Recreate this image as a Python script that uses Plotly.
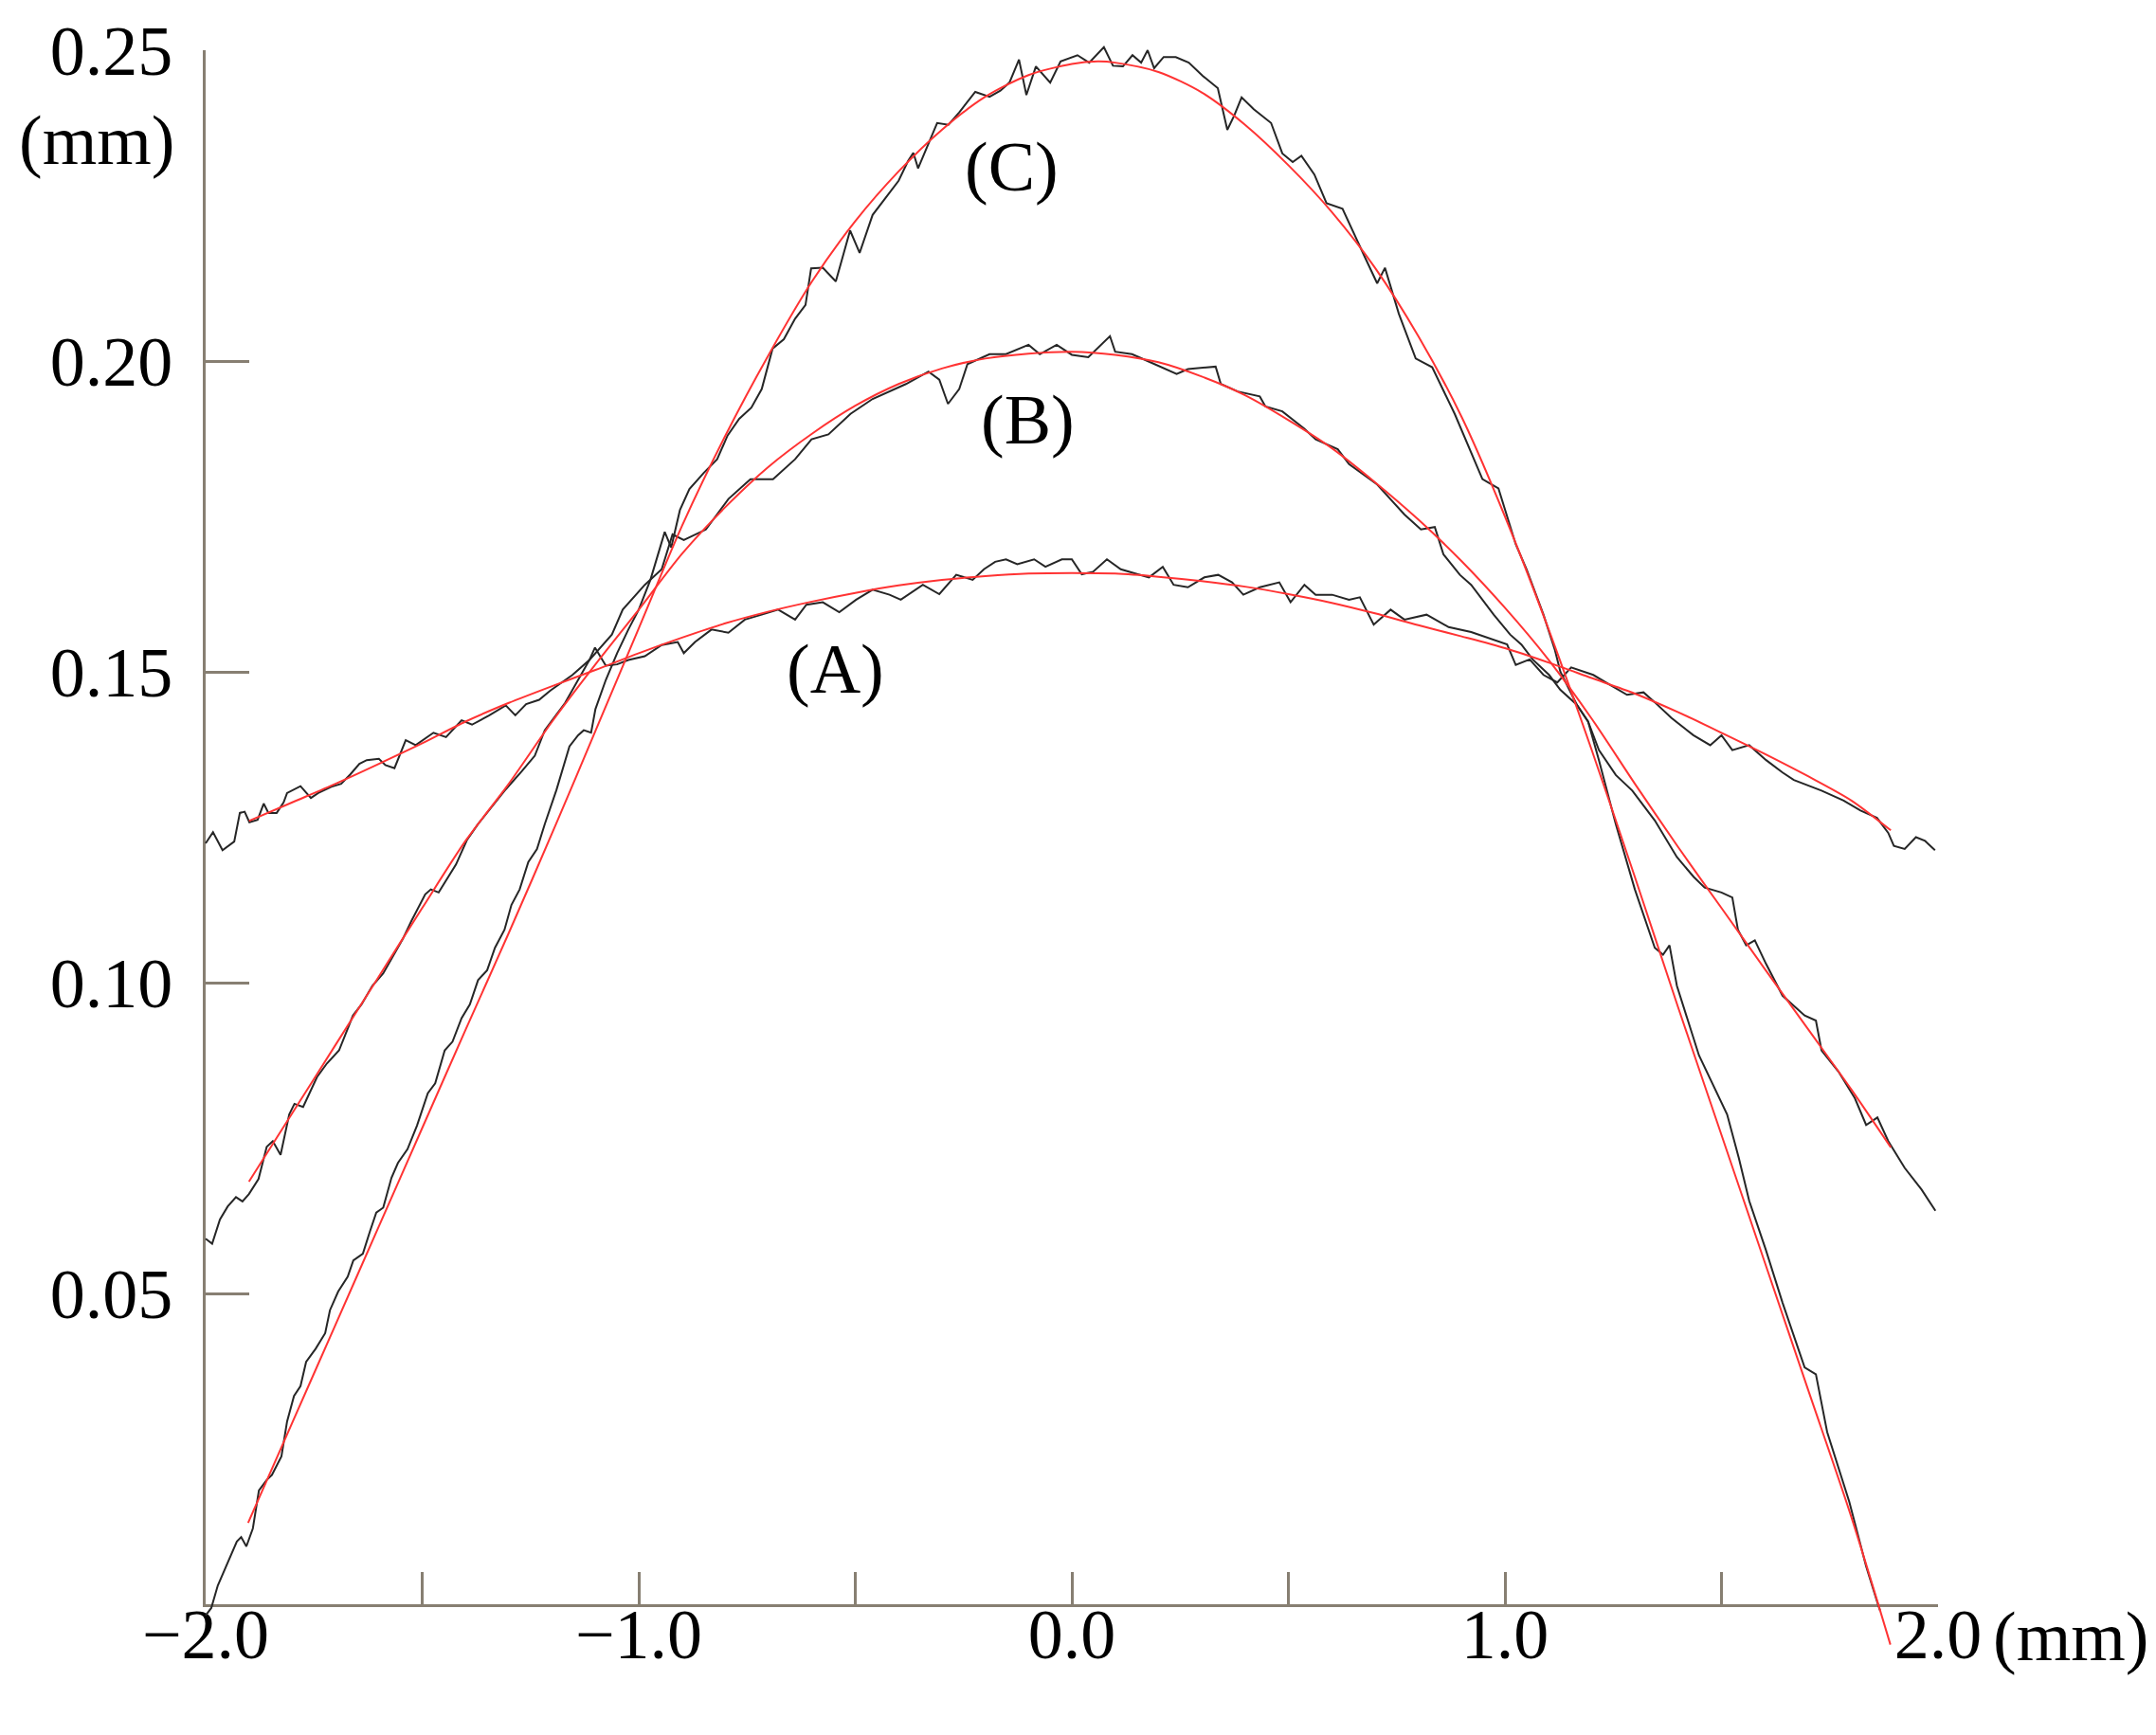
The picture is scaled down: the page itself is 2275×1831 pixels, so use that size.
import plotly.graph_objects as go

# ---------------- data ----------------
# (A) measured profile
xA_meas = [-2.000, -1.983, -1.961, -1.934, -1.921, -1.910, -1.899, -1.880, -1.866, -1.855, -1.836, -1.820,
           -1.812, -1.781, -1.757, -1.740, -1.710, -1.687, -1.666, -1.645, -1.628, -1.600, -1.585, -1.564,
           -1.538, -1.515, -1.474, -1.445, -1.409, -1.385, -1.345, -1.307, -1.285, -1.260, -1.230, -1.204,
           -1.153, -1.114, -1.101, -1.076, -1.050, -1.024, -0.986, -0.947, -0.910, -0.896, -0.870, -0.832,
           -0.793, -0.755, -0.716, -0.678, -0.639, -0.613, -0.575, -0.537, -0.498, -0.460, -0.421, -0.395,
           -0.344, -0.306, -0.267, -0.229, -0.203, -0.177, -0.152, -0.126, -0.087, -0.061, -0.023, 0.000,
           0.023, 0.049, 0.081, 0.113, 0.152, 0.178, 0.210, 0.235, 0.268, 0.306, 0.338, 0.370,
           0.396, 0.434, 0.479, 0.505, 0.537, 0.563, 0.601, 0.640, 0.665, 0.697, 0.736, 0.768,
           0.819, 0.870, 0.922, 0.974, 1.005, 1.025, 1.057, 1.089, 1.121, 1.153, 1.204, 1.243,
           1.282, 1.320, 1.346, 1.384, 1.435, 1.474, 1.500, 1.525, 1.564, 1.603, 1.641, 1.667,
           1.731, 1.782, 1.821, 1.859, 1.885, 1.898, 1.923, 1.949, 1.970, 1.993]
yA_meas = [0.1224, 0.1242, 0.1213, 0.1227, 0.1273, 0.1275, 0.1258, 0.1262, 0.1288, 0.1273, 0.1273, 0.1290,
           0.1305, 0.1316, 0.1297, 0.1305, 0.1315, 0.1320, 0.1335, 0.1352, 0.1358, 0.1360, 0.1350, 0.1345,
           0.1390, 0.1382, 0.1402, 0.1395, 0.1422, 0.1415, 0.1430, 0.1446, 0.1430, 0.1448, 0.1455, 0.1470,
           0.1495, 0.1519, 0.1539, 0.1510, 0.1512, 0.1519, 0.1525, 0.1543, 0.1548, 0.1530, 0.1548, 0.1568,
           0.1563, 0.1584, 0.1592, 0.1600, 0.1584, 0.1608, 0.1612, 0.1596, 0.1616, 0.1632, 0.1624, 0.1616,
           0.1640, 0.1625, 0.1656, 0.1648, 0.1665, 0.1677, 0.1681, 0.1673, 0.1681, 0.1669, 0.1681, 0.1681,
           0.1657, 0.1661, 0.1681, 0.1665, 0.1657, 0.1652, 0.1669, 0.1640, 0.1636, 0.1652, 0.1656, 0.1644,
           0.1624, 0.1636, 0.1644, 0.1612, 0.1640, 0.1624, 0.1624, 0.1616, 0.1620, 0.1576, 0.1600, 0.1584,
           0.1592, 0.1572, 0.1564, 0.1552, 0.1544, 0.1511, 0.1520, 0.1495, 0.1483, 0.1507, 0.1495, 0.1479,
           0.1463, 0.1467, 0.1451, 0.1426, 0.1398, 0.1382, 0.1398, 0.1374, 0.1382, 0.1358, 0.1338, 0.1326,
           0.1309, 0.1293, 0.1277, 0.1265, 0.1241, 0.1220, 0.1215, 0.1234, 0.1228, 0.1213]

# (A) fitted curve
xA_fit = [-1.900, -1.800, -1.700, -1.600, -1.500, -1.400, -1.300, -1.200, -1.100, -1.000, -0.900, -0.800,
          -0.700, -0.600, -0.500, -0.400, -0.300, -0.200, -0.100, 0.000, 0.100, 0.200, 0.300, 0.400,
          0.500, 0.600, 0.700, 0.800, 0.900, 1.000, 1.100, 1.200, 1.300, 1.400, 1.500, 1.600,
          1.700, 1.800, 1.891]
yA_fit = [0.1260, 0.1290, 0.1320, 0.1352, 0.1385, 0.1420, 0.1450, 0.1477, 0.1503, 0.1530, 0.1555, 0.1578,
          0.1597, 0.1613, 0.1627, 0.1639, 0.1648, 0.1654, 0.1658, 0.1659, 0.1658, 0.1653, 0.1646, 0.1637,
          0.1625, 0.1611, 0.1594, 0.1575, 0.1557, 0.1538, 0.1515, 0.1490, 0.1465, 0.1435, 0.1402, 0.1368,
          0.1332, 0.1293, 0.1245]

# (B) measured profile
xB_meas = [-2.000, -1.985, -1.967, -1.949, -1.930, -1.915, -1.900, -1.878, -1.859, -1.845, -1.827, -1.807,
           -1.795, -1.775, -1.743, -1.720, -1.692, -1.660, -1.640, -1.615, -1.590, -1.564, -1.545, -1.525,
           -1.493, -1.480, -1.462, -1.422, -1.397, -1.371, -1.330, -1.307, -1.270, -1.240, -1.217, -1.170,
           -1.114, -1.088, -1.062, -1.037, -0.986, -0.947, -0.922, -0.896, -0.845, -0.793, -0.742, -0.690,
           -0.639, -0.601, -0.562, -0.511, -0.460, -0.383, -0.331, -0.306, -0.286, -0.260, -0.241, -0.190,
           -0.152, -0.100, -0.074, -0.035, 0.000, 0.038, 0.088, 0.100, 0.139, 0.165, 0.203, 0.242,
           0.268, 0.332, 0.344, 0.383, 0.434, 0.447, 0.486, 0.537, 0.563, 0.588, 0.614, 0.640,
           0.704, 0.768, 0.806, 0.838, 0.858, 0.896, 0.922, 0.974, 1.012, 1.038, 1.064, 1.102,
           1.128, 1.166, 1.192, 1.217, 1.256, 1.294, 1.346, 1.397, 1.436, 1.461, 1.500, 1.525,
           1.538, 1.557, 1.577, 1.603, 1.641, 1.692, 1.718, 1.731, 1.770, 1.808, 1.834, 1.860,
           1.885, 1.923, 1.962, 1.994]
yB_meas = [0.0588, 0.0580, 0.0619, 0.0640, 0.0655, 0.0648, 0.0660, 0.0684, 0.0736, 0.0745, 0.0723, 0.0788,
           0.0805, 0.0800, 0.0848, 0.0870, 0.0891, 0.0947, 0.0965, 0.0995, 0.1015, 0.1047, 0.1070, 0.1099,
           0.1142, 0.1150, 0.1145, 0.1190, 0.1229, 0.1255, 0.1290, 0.1311, 0.1340, 0.1365, 0.1406, 0.1450,
           0.1519, 0.1539, 0.1560, 0.1600, 0.1640, 0.1665, 0.1721, 0.1712, 0.1729, 0.1778, 0.1810, 0.1810,
           0.1842, 0.1874, 0.1882, 0.1915, 0.1939, 0.1963, 0.1983, 0.1970, 0.1931, 0.1955, 0.1995, 0.2011,
           0.2011, 0.2026, 0.2011, 0.2026, 0.2010, 0.2006, 0.2040, 0.2015, 0.2011, 0.2003, 0.1991, 0.1979,
           0.1987, 0.1991, 0.1963, 0.1951, 0.1943, 0.1927, 0.1919, 0.1891, 0.1874, 0.1866, 0.1858, 0.1834,
           0.1802, 0.1753, 0.1729, 0.1733, 0.1689, 0.1656, 0.1640, 0.1592, 0.1560, 0.1544, 0.1520, 0.1495,
           0.1471, 0.1447, 0.1420, 0.1374, 0.1334, 0.1309, 0.1261, 0.1202, 0.1170, 0.1153, 0.1145, 0.1137,
           0.1085, 0.1060, 0.1068, 0.1030, 0.0979, 0.0947, 0.0939, 0.0891, 0.0857, 0.0814, 0.0771, 0.0783,
           0.0745, 0.0702, 0.0667, 0.0633]

# (B) fitted curve
xB_fit = [-1.900, -1.800, -1.700, -1.600, -1.500, -1.400, -1.300, -1.200, -1.100, -1.000, -0.900, -0.800,
          -0.700, -0.600, -0.500, -0.400, -0.300, -0.200, -0.100, 0.000, 0.100, 0.200, 0.300, 0.400,
          0.500, 0.600, 0.700, 0.800, 0.900, 1.000, 1.100, 1.200, 1.300, 1.400, 1.500, 1.600,
          1.700, 1.800, 1.891]
yB_fit = [0.0680, 0.0790, 0.0900, 0.1010, 0.1120, 0.1228, 0.1320, 0.1420, 0.1512, 0.1600, 0.1690, 0.1765,
          0.1830, 0.1883, 0.1928, 0.1963, 0.1988, 0.2004, 0.2012, 0.2015, 0.2010, 0.1998, 0.1975, 0.1945,
          0.1905, 0.1860, 0.1805, 0.1745, 0.1678, 0.1603, 0.1520, 0.1425, 0.1320, 0.1218, 0.1120, 0.1022,
          0.0925, 0.0828, 0.0735]

# (C) measured profile
xC_meas = [-2.000, -1.987, -1.972, -1.943, -1.928, -1.918, -1.906, -1.891, -1.877, -1.859, -1.847, -1.825,
           -1.812, -1.796, -1.781, -1.768, -1.746, -1.724, -1.713, -1.694, -1.672, -1.659, -1.637, -1.621,
           -1.606, -1.590, -1.571, -1.556, -1.534, -1.512, -1.487, -1.470, -1.448, -1.430, -1.409, -1.390,
           -1.371, -1.350, -1.332, -1.310, -1.294, -1.275, -1.255, -1.235, -1.217, -1.190, -1.160, -1.140,
           -1.127, -1.110, -1.100, -1.076, -1.050, -1.024, -1.000, -0.973, -0.955, -0.940, -0.925, -0.905,
           -0.883, -0.850, -0.819, -0.795, -0.768, -0.740, -0.716, -0.691, -0.665, -0.639, -0.615, -0.602,
           -0.575, -0.545, -0.512, -0.490, -0.460, -0.422, -0.400, -0.378, -0.366, -0.355, -0.311, -0.285,
           -0.260, -0.223, -0.190, -0.165, -0.144, -0.122, -0.105, -0.083, -0.050, -0.026, 0.013, 0.040,
           0.074, 0.095, 0.118, 0.140, 0.160, 0.175, 0.190, 0.212, 0.240, 0.270, 0.302, 0.337,
           0.359, 0.375, 0.392, 0.420, 0.460, 0.486, 0.510, 0.530, 0.560, 0.588, 0.625, 0.678,
           0.705, 0.723, 0.755, 0.794, 0.832, 0.884, 0.948, 0.985, 1.025, 1.050, 1.089, 1.115,
           1.128, 1.166, 1.192, 1.217, 1.256, 1.300, 1.346, 1.365, 1.380, 1.397, 1.448, 1.513,
           1.540, 1.564, 1.602, 1.641, 1.692, 1.718, 1.744, 1.795, 1.834, 1.859, 1.866]
yC_meas = [-0.0018, -0.0006, 0.0030, 0.0076, 0.0101, 0.0108, 0.0093, 0.0122, 0.0183, 0.0200, 0.0208, 0.0238,
           0.0294, 0.0335, 0.0351, 0.0390, 0.0411, 0.0436, 0.0473, 0.0503, 0.0527, 0.0553, 0.0564, 0.0599,
           0.0630, 0.0638, 0.0686, 0.0710, 0.0732, 0.0770, 0.0822, 0.0838, 0.0891, 0.0905, 0.0943, 0.0965,
           0.1004, 0.1020, 0.1056, 0.1085, 0.1125, 0.1150, 0.1194, 0.1215, 0.1255, 0.1310, 0.1380, 0.1398,
           0.1406, 0.1402, 0.1440, 0.1487, 0.1530, 0.1568, 0.1600, 0.1648, 0.1690, 0.1725, 0.1700, 0.1760,
           0.1794, 0.1820, 0.1842, 0.1880, 0.1907, 0.1925, 0.1955, 0.2020, 0.2035, 0.2068, 0.2090, 0.2149,
           0.2150, 0.2128, 0.2210, 0.2174, 0.2235, 0.2271, 0.2290, 0.2322, 0.2335, 0.2310, 0.2383, 0.2380,
           0.2400, 0.2433, 0.2425, 0.2435, 0.2448, 0.2485, 0.2428, 0.2474, 0.2448, 0.2482, 0.2492, 0.2480,
           0.2505, 0.2475, 0.2474, 0.2492, 0.2480, 0.2500, 0.2471, 0.2489, 0.2489, 0.2480, 0.2459, 0.2439,
           0.2372, 0.2395, 0.2424, 0.2405, 0.2383, 0.2334, 0.2320, 0.2330, 0.2300, 0.2254, 0.2245, 0.2165,
           0.2125, 0.2150, 0.2076, 0.2004, 0.1990, 0.1915, 0.1810, 0.1795, 0.1705, 0.1665, 0.1592, 0.1536,
           0.1500, 0.1447, 0.1420, 0.1358, 0.1255, 0.1150, 0.1056, 0.1045, 0.1060, 0.0995, 0.0883, 0.0788,
           0.0718, 0.0649, 0.0571, 0.0485, 0.0381, 0.0370, 0.0277, 0.0165, 0.0061, 0.0005, -0.0010]

# (C) fitted curve
xC_fit = [-1.902, -1.800, -1.700, -1.600, -1.500, -1.400, -1.300, -1.191, -1.100, -1.000, -0.900, -0.800,
          -0.700, -0.600, -0.500, -0.400, -0.300, -0.200, -0.100, 0.000, 0.060, 0.100, 0.200, 0.300,
          0.400, 0.500, 0.600, 0.700, 0.800, 0.900, 1.000, 1.100, 1.200, 1.300, 1.400, 1.500,
          1.600, 1.700, 1.800, 1.890]
yC_fit = [0.0131, 0.0292, 0.0450, 0.0608, 0.0766, 0.0924, 0.1080, 0.1255, 0.1405, 0.1570, 0.1735, 0.1880,
          0.2010, 0.2128, 0.2225, 0.2305, 0.2372, 0.2425, 0.2460, 0.2478, 0.2482, 0.2480, 0.2465, 0.2432,
          0.2380, 0.2315, 0.2240, 0.2150, 0.2040, 0.1910, 0.1750, 0.1570, 0.1375, 0.1170, 0.0960, 0.0755,
          0.0550, 0.0345, 0.0140, -0.0065]

# axis ticks
x_tickvals = [-2.0, -1.5, -1.0, -0.5, 0.0, 0.5, 1.0, 1.5, 2.0]
x_ticktext = ["\u22122.0", "", "\u22121.0", "", "0.0", "", "1.0", "", "2.0"]
y_tickvals = [0.05, 0.10, 0.15, 0.20, 0.25]
y_ticktext = ["0.05", "0.10", "0.15", "0.20", "0.25"]

curve_labels = ["(A)", "(B)", "(C)"]
label_x = [-0.545, -0.101, -0.138]
label_y = [0.1505, 0.1905, 0.2312]

# ---------------- layout geometry (pixels) ----------------
W, H = 2275, 1831
ML, MR, MT, MB = 112, 128, 12, 68
X0, X1 = 209, 2037      # pixel of x = -2 and x = 2 (inside the figure)
Y0, Y1 = 1685, 45       # pixel of y = 0 and y = 0.25
PW = W - ML - MR
PH = H - MT - MB
sx = (X1 - X0) / 4.0
sy = (Y0 - Y1) / 0.25

xdom = [(X0 - ML) / PW, (X1 - ML) / PW]
ydom = [(H - MB - Y0) / PH, (H - MB - Y1) / PH]
x2range = [-2.0 - (X0 - ML) / sx, 2.0 + (W - MR - X1) / sx]
y2range = [0.0 - (H - MB - Y0) / sy, 0.25 + (Y1 - MT) / sy]

FONT = "Liberation Serif"
AX = "#877f72"
BLACK = "#262626"
RED = "#ff3333"

fig = go.Figure()
# anchor trace so that the visible x/y axes subplot is created
fig.add_trace(go.Scatter(x=[-2.0, 2.0], y=[0.0, 0.25], mode="markers", xaxis="x", yaxis="y",
                         marker=dict(size=1, opacity=0), hoverinfo="skip"))
for xs, ys in [(xA_meas, yA_meas), (xB_meas, yB_meas), (xC_meas, yC_meas)]:
    fig.add_trace(go.Scatter(x=xs, y=ys, mode="lines", xaxis="x2", yaxis="y2",
                             line=dict(color=BLACK, width=2), hoverinfo="skip"))
for xs, ys in [(xA_fit, yA_fit), (xB_fit, yB_fit), (xC_fit, yC_fit)]:
    fig.add_trace(go.Scatter(x=xs, y=ys, mode="lines", xaxis="x2", yaxis="y2",
                             line=dict(color=RED, width=2, shape="spline", smoothing=0.8),
                             hoverinfo="skip"))

fig.update_layout(
    width=W, height=H,
    margin=dict(l=ML, r=MR, t=MT, b=MB, pad=0, autoexpand=False),
    paper_bgcolor="white", plot_bgcolor="rgba(0,0,0,0)",
    showlegend=False,
    font=dict(family=FONT, size=74, color="black"),
    xaxis=dict(domain=xdom, range=[-2.0, 2.0], anchor="y", showgrid=False, zeroline=False,
               automargin=False, showline=True, linecolor=AX, linewidth=3,
               ticks="inside", ticklen=34, tickwidth=2.5, tickcolor=AX,
               tickvals=x_tickvals, ticktext=x_ticktext, ticklabelstandoff=-35,
               tickfont=dict(family=FONT, size=74, color="black")),
    yaxis=dict(domain=ydom, range=[0.0, 0.25], anchor="x", showgrid=False, zeroline=False,
               automargin=False, showline=True, linecolor=AX, linewidth=3,
               ticks="inside", ticklen=46, tickwidth=2.5, tickcolor=AX,
               tickvals=y_tickvals, ticktext=y_ticktext, ticklabelstandoff=17,
               tickfont=dict(family=FONT, size=74, color="black")),
    xaxis2=dict(domain=[0, 1], range=x2range, anchor="y2", visible=False, fixedrange=True,
                automargin=False),
    yaxis2=dict(domain=[0, 1], range=y2range, anchor="x2", visible=False, fixedrange=True,
                automargin=False),
)

for t, lx, ly in zip(curve_labels, label_x, label_y):
    fig.add_annotation(x=lx, y=ly, xref="x", yref="y", text=t, showarrow=False,
                       xanchor="center", yanchor="middle",
                       font=dict(family=FONT, size=74, color="black"))

# axis unit labels
fig.add_annotation(x=-2.0 - 31 / sx, y=0.2355, xref="x2", yref="y2", text="(mm)", showarrow=False,
                   xanchor="right", yanchor="middle", font=dict(family=FONT, size=74, color="black"))
fig.add_annotation(x=2.0 + 56 / sx, y=-34 / sy, xref="x2", yref="y2", text="(mm)", showarrow=False,
                   xanchor="left", yanchor="middle", font=dict(family=FONT, size=74, color="black"))

fig.write_html("out.html")
